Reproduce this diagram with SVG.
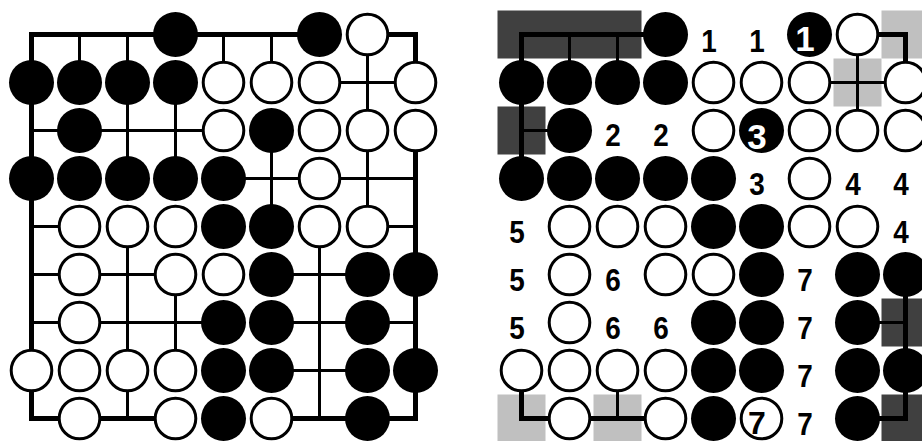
<svg xmlns="http://www.w3.org/2000/svg" width="922" height="441" viewBox="0 0 922 441">
<style>
.b{fill:#000}
.w{fill:#fff;stroke:#000;stroke-width:3}
.thick{fill:none;stroke:#000;stroke-width:5;stroke-linejoin:miter}
.thin{fill:none;stroke:#000;stroke-width:3}
.dark{fill:#404040}
.light{fill:#c0c0c0}
.lbl{font-family:"Liberation Sans",Arial,sans-serif;font-weight:bold;font-size:32px;text-anchor:middle;fill:#000}
.big{font-size:35px}
.lblw{fill:#fff}
</style>
<defs>
<g id="stones">
<circle class="b" cx="144" cy="0" r="22.5"/>
<circle class="b" cx="288" cy="0" r="22.5"/>
<circle class="b" cx="0" cy="48" r="22.5"/>
<circle class="b" cx="48" cy="48" r="22.5"/>
<circle class="b" cx="96" cy="48" r="22.5"/>
<circle class="b" cx="144" cy="48" r="22.5"/>
<circle class="b" cx="48" cy="96" r="22.5"/>
<circle class="b" cx="240" cy="96" r="22.5"/>
<circle class="b" cx="0" cy="144" r="22.5"/>
<circle class="b" cx="48" cy="144" r="22.5"/>
<circle class="b" cx="96" cy="144" r="22.5"/>
<circle class="b" cx="144" cy="144" r="22.5"/>
<circle class="b" cx="192" cy="144" r="22.5"/>
<circle class="b" cx="192" cy="192" r="22.5"/>
<circle class="b" cx="240" cy="192" r="22.5"/>
<circle class="b" cx="240" cy="240" r="22.5"/>
<circle class="b" cx="336" cy="240" r="22.5"/>
<circle class="b" cx="384" cy="240" r="22.5"/>
<circle class="b" cx="192" cy="288" r="22.5"/>
<circle class="b" cx="240" cy="288" r="22.5"/>
<circle class="b" cx="336" cy="288" r="22.5"/>
<circle class="b" cx="192" cy="336" r="22.5"/>
<circle class="b" cx="240" cy="336" r="22.5"/>
<circle class="b" cx="336" cy="336" r="22.5"/>
<circle class="b" cx="384" cy="336" r="22.5"/>
<circle class="b" cx="192" cy="384" r="22.5"/>
<circle class="b" cx="336" cy="384" r="22.5"/>
<circle class="w" cx="336" cy="0" r="20.3"/>
<circle class="w" cx="192" cy="48" r="20.3"/>
<circle class="w" cx="240" cy="48" r="20.3"/>
<circle class="w" cx="288" cy="48" r="20.3"/>
<circle class="w" cx="384" cy="48" r="20.3"/>
<circle class="w" cx="192" cy="96" r="20.3"/>
<circle class="w" cx="288" cy="96" r="20.3"/>
<circle class="w" cx="336" cy="96" r="20.3"/>
<circle class="w" cx="384" cy="96" r="20.3"/>
<circle class="w" cx="288" cy="144" r="20.3"/>
<circle class="w" cx="48" cy="192" r="20.3"/>
<circle class="w" cx="96" cy="192" r="20.3"/>
<circle class="w" cx="144" cy="192" r="20.3"/>
<circle class="w" cx="288" cy="192" r="20.3"/>
<circle class="w" cx="336" cy="192" r="20.3"/>
<circle class="w" cx="48" cy="240" r="20.3"/>
<circle class="w" cx="144" cy="240" r="20.3"/>
<circle class="w" cx="192" cy="240" r="20.3"/>
<circle class="w" cx="48" cy="288" r="20.3"/>
<circle class="w" cx="0" cy="336" r="20.3"/>
<circle class="w" cx="48" cy="336" r="20.3"/>
<circle class="w" cx="96" cy="336" r="20.3"/>
<circle class="w" cx="144" cy="336" r="20.3"/>
<circle class="w" cx="48" cy="384" r="20.3"/>
<circle class="w" cx="144" cy="384" r="20.3"/>
<circle class="w" cx="240" cy="384" r="20.3"/>
</g>
</defs>
<rect width="922" height="441" fill="#fff"/>
<g id="board-left" transform="translate(31.5,34.5)">
<g id="connectors-left">
<path class="thick" d="M288,0 H0 V384 H144"/>
<path class="thick" d="M336,0 H384 V48"/>
<path class="thick" d="M384,96 V384 H240"/>
<path class="thin" d="M288,48 H384 M0,96 H192 M192,144 H384 M0,192 H48 M336,192 H384 M0,240 H144 M240,240 H336 M0,288 H192 M240,288 H384 M240,336 H336"/>
<path class="thin" d="M48,0 V48 M96,0 V144 M96,192 V384 M144,48 V144 M144,240 V336 M192,0 V48 M240,0 V48 M240,96 V192 M288,192 V384 M336,0 V192"/>
</g>
<use id="stones-left" href="#stones"/>
</g>
<g id="board-right" transform="translate(521.5,34.5)">
<g id="shading">
<rect class="dark" x="-24" y="-24" width="144" height="48"/>
<rect class="dark" x="-24" y="72" width="48" height="48"/>
<rect class="dark" x="360" y="264" width="48" height="48"/>
<rect class="dark" x="360" y="360" width="48" height="48"/>
<rect class="light" x="360" y="-24" width="48" height="48"/>
<rect class="light" x="312" y="24" width="48" height="48"/>
<rect class="light" x="-24" y="360" width="48" height="48"/>
<rect class="light" x="72" y="360" width="48" height="48"/>
</g>
<g id="connectors-right">
<path class="thick" d="M144,0 H0 V144"/>
<path class="thin" d="M48,0 V48 M96,0 V48 M0,96 H48"/>
<path class="thick" d="M336,0 H384 V48"/>
<path class="thin" d="M288,48 H384 M336,0 V96"/>
<path class="thick" d="M384,240 V336"/>
<path class="thin" d="M336,288 H384"/>
<path class="thick" d="M336,384 H384 V336"/>
<path class="thick" d="M0,336 V384 H144"/>
<path class="thin" d="M96,336 V384"/>
</g>
<use id="stones-right" href="#stones"/>
<g id="labels">
<text class="lbl" x="187.5" y="17" textLength="15.5" lengthAdjust="spacingAndGlyphs">1</text>
<text class="lbl" x="235.5" y="17" textLength="15.5" lengthAdjust="spacingAndGlyphs">1</text>
<text class="lbl big lblw" x="283.5" y="16">1</text>
<text class="lbl" x="91.5" y="111" textLength="15.5" lengthAdjust="spacingAndGlyphs">2</text>
<text class="lbl" x="139.5" y="111" textLength="15.5" lengthAdjust="spacingAndGlyphs">2</text>
<text class="lbl big lblw" x="235.5" y="114">3</text>
<text class="lbl" x="235.5" y="160" textLength="15.5" lengthAdjust="spacingAndGlyphs">3</text>
<text class="lbl" x="331.5" y="160" textLength="15.5" lengthAdjust="spacingAndGlyphs">4</text>
<text class="lbl" x="379.5" y="160" textLength="15.5" lengthAdjust="spacingAndGlyphs">4</text>
<text class="lbl" x="379.5" y="208" textLength="15.5" lengthAdjust="spacingAndGlyphs">4</text>
<text class="lbl" x="-4.5" y="208" textLength="15.5" lengthAdjust="spacingAndGlyphs">5</text>
<text class="lbl" x="-4.5" y="256" textLength="15.5" lengthAdjust="spacingAndGlyphs">5</text>
<text class="lbl" x="-4.5" y="304" textLength="15.5" lengthAdjust="spacingAndGlyphs">5</text>
<text class="lbl" x="91.5" y="256" textLength="15.5" lengthAdjust="spacingAndGlyphs">6</text>
<text class="lbl" x="91.5" y="304" textLength="15.5" lengthAdjust="spacingAndGlyphs">6</text>
<text class="lbl" x="139.5" y="304" textLength="15.5" lengthAdjust="spacingAndGlyphs">6</text>
<text class="lbl" x="283.5" y="256" textLength="15.5" lengthAdjust="spacingAndGlyphs">7</text>
<text class="lbl" x="283.5" y="304" textLength="15.5" lengthAdjust="spacingAndGlyphs">7</text>
<text class="lbl" x="283.5" y="352" textLength="15.5" lengthAdjust="spacingAndGlyphs">7</text>
<text class="lbl" x="283.5" y="400" textLength="15.5" lengthAdjust="spacingAndGlyphs">7</text>
<text class="lbl" x="235.5" y="399" font-size="33">7</text>
</g>
</g>
</svg>
